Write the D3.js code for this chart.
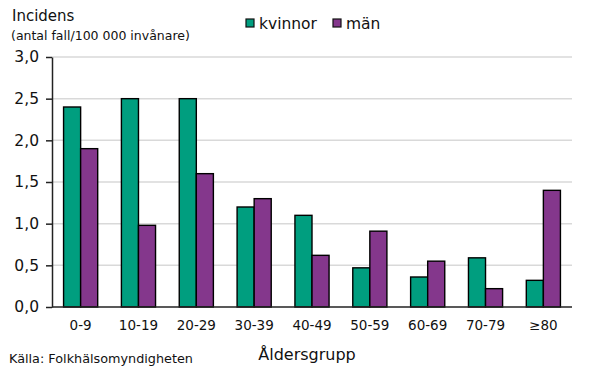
<!DOCTYPE html>
<html lang="sv">
<head>
  <meta charset="UTF-8">
  <title>Incidens per åldersgrupp</title>
  <script src="https://d3js.org/d3.v7.min.js"></script>
  <style>
    body { margin: 0; background: #fff; font-family: "DejaVu Sans", Verdana, sans-serif; }
    svg { display: block; }
  </style>
</head>
<body>
  <svg width="590" height="370"></svg>

  <script>
    const ageGroups = ["0-9", "10-19", "20-29", "30-39", "40-49", "50-59", "60-69", "70-79", "≥80"];
    const kvinnor = [2.4, 2.5, 2.5, 1.2, 1.1, 0.47, 0.36, 0.59, 0.32];
    const man = [1.9, 0.98, 1.6, 1.3, 0.62, 0.91, 0.55, 0.22, 1.4];
    const yTicks = [0, 0.5, 1, 1.5, 2, 2.5, 3];
    const series = [
      { name: "kvinnor", values: kvinnor, color: "#009e7f" },
      { name: "män", values: man, color: "#84378c" }
    ];

    const svg = d3.select("svg");
    const margin = { top: 57, right: 18, bottom: 63, left: 52 };
    const width = 590 - margin.left - margin.right;
    const height = 370 - margin.top - margin.bottom;

    const g = svg.append("g").attr("transform", `translate(${margin.left},${margin.top})`);

    const x = d3.scaleBand().domain(ageGroups).range([0, width]).paddingInner(0.41).paddingOuter(0.2);
    const xInner = d3.scaleBand().domain(series.map(s => s.name)).range([0, x.bandwidth()]);
    const y = d3.scaleLinear().domain([0, 3]).range([height, 0]);

    const fmt = d => d.toFixed(1).replace(".", ",");

    // grid lines
    g.append("g")
      .selectAll("line")
      .data(yTicks.filter(d => d > 0))
      .join("line")
      .attr("x1", 0)
      .attr("x2", width)
      .attr("y1", d => y(d))
      .attr("y2", d => y(d))
      .attr("stroke", "#d9d9d9")
      .attr("stroke-width", 1.5);

    // bars
    series.forEach(s => {
      g.append("g")
        .selectAll("rect")
        .data(s.values.map((v, i) => ({ group: ageGroups[i], value: v })))
        .join("rect")
        .attr("x", d => x(d.group) + xInner(s.name))
        .attr("y", d => y(d.value))
        .attr("width", xInner.bandwidth())
        .attr("height", d => height - y(d.value))
        .attr("fill", s.color)
        .attr("stroke", "#000")
        .attr("stroke-width", 1.4);
    });

    // y axis
    const yAxis = g.append("g")
      .call(d3.axisLeft(y).tickValues(yTicks).tickFormat(fmt).tickSize(6).tickSizeOuter(0));
    yAxis.select(".domain").attr("stroke", "#222").attr("stroke-width", 1.5);
    yAxis.selectAll(".tick line").attr("stroke", "#222").attr("stroke-width", 1.5);
    yAxis.selectAll(".tick text")
      .attr("x", -13)
      .attr("font-family", "DejaVu Sans, Verdana, sans-serif")
      .attr("font-size", 15.5)
      .attr("fill", "#111");

    // x axis
    const xAxis = g.append("g")
      .attr("transform", `translate(0,${height})`)
      .call(d3.axisBottom(x).tickSize(0).tickSizeOuter(0));
    xAxis.select(".domain").attr("stroke", "#222").attr("stroke-width", 1.5)
      .attr("d", `M0,0H${width}`);
    xAxis.selectAll(".tick text")
      .attr("y", 13)
      .attr("font-family", "DejaVu Sans, Verdana, sans-serif")
      .attr("font-size", 13.5)
      .attr("fill", "#111");

    // titles
    svg.append("text")
      .attr("x", 12).attr("y", 21)
      .attr("font-size", 15).attr("fill", "#111")
      .text("Incidens");
    svg.append("text")
      .attr("x", 11).attr("y", 40)
      .attr("font-size", 12.5).attr("fill", "#111")
      .text("(antal fall/100 000 invånare)");

    svg.append("text")
      .attr("x", 307).attr("y", 360)
      .attr("text-anchor", "middle")
      .attr("font-size", 16).attr("fill", "#111")
      .text("Åldersgrupp");

    svg.append("text")
      .attr("x", 9).attr("y", 363)
      .attr("font-size", 12.8).attr("fill", "#111")
      .text("Källa: Folkhälsomyndigheten");

    // legend
    const legendPos = [246, 333];
    const legend = svg.append("g");
    series.forEach((s, i) => {
      const lg = legend.append("g").attr("transform", `translate(${legendPos[i]},19)`);
      lg.append("rect")
        .attr("width", 8).attr("height", 8)
        .attr("fill", s.color)
        .attr("stroke", "#111").attr("stroke-width", 1.2);
      lg.append("text")
        .attr("x", 13).attr("y", 10)
        .attr("font-size", 15.5).attr("fill", "#111")
        .text(s.name);
    });
  </script>
</body>
</html>
